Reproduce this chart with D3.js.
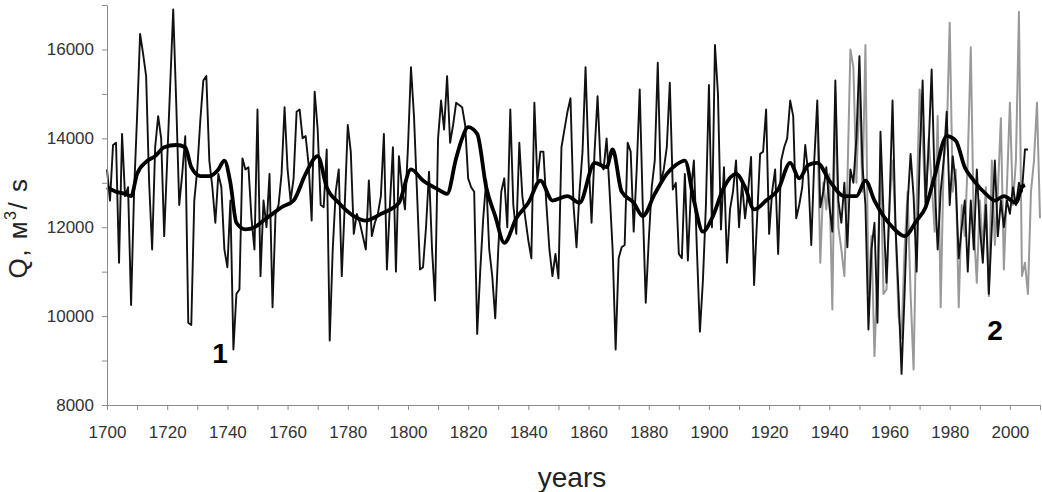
<!DOCTYPE html>
<html>
<head>
<meta charset="utf-8">
<script src="https://cdn.jsdelivr.net/npm/d3@7"></script>
<style>
  body { margin: 0; background: #fff; }
  text { font-family: "Liberation Sans", Arial, sans-serif; }
  .axis path, .axis line { stroke: #8a8a8a; }
  .axis text { fill: #333; font-size: 17px; }
</style>
</head>
<body>
<div id="chart"></div>
<script>
// 1. Data

// curve 1: reconstructed discharge, one value per year from 1700
const reconStart = 1700
const reconValues = [
  13300, 12600, 13850, 13900, 11200, 14100, 12700, 12900, 10250, 12800, // 1700s
  14500, 16350, 15900, 15400, 13000, 11500, 13800, 14500, 14000, 11800, // 1710s
  13500, 15200, 16900, 14800, 12500, 13200, 14050, 9850, 9800, 12600,   // 1720s
  13300, 14400, 15300, 15400, 13500, 12900, 12100, 13200, 12900, 11500, // 1730s
  11100, 12600, 9250, 10500, 10600, 13550, 13300, 13350, 12200, 11500,  // 1740s
  14650, 10900, 12600, 12000, 13200, 10200, 12300, 12500, 13200, 14700, // 1750s
  13300, 12600, 13100, 14600, 14650, 14000, 14050, 13400, 12150, 15050, // 1760s
  14200, 12500, 12450, 13750, 9450, 11500, 12800, 13300, 10900, 12500,  // 1770s
  14300, 13700, 11850, 12300, 12100, 11800, 11500, 13050, 11800, 12100, // 1780s
  12300, 12700, 14100, 11050, 12500, 13800, 11000, 13600, 12900, 12400, // 1790s
  13800, 15600, 14500, 12800, 11050, 11100, 12000, 13250, 11500, 10350, // 1800s
  14000, 14850, 14200, 15400, 13900, 14300, 14800, 14750, 14700, 14300, // 1810s
  13100, 12900, 12800, 9600, 11000, 12200, 13050, 11500, 10900, 9950,   // 1820s
  11500, 12800, 13100, 12000, 14650, 12500, 11850, 13900, 12700, 12200, // 1830s
  11700, 11300, 14800, 13050, 13700, 13700, 12500, 11500, 10900, 11400, // 1840s
  10850, 13800, 14200, 14600, 14900, 12500, 11550, 12800, 13700, 15600, // 1850s
  13500, 12100, 13700, 14950, 13400, 13300, 14000, 12800, 11500, 9250,  // 1860s
  11300, 11550, 11600, 13900, 13700, 11900, 13300, 15100, 12500, 10300, // 1870s
  11700, 12900, 13500, 15700, 13000, 13300, 13800, 15250, 12850, 13000, // 1880s
  11400, 11300, 13200, 11250, 12800, 13500, 11500, 9650, 10800, 12500,  // 1890s
  15200, 12000, 16100, 15000, 11950, 13350, 11200, 12400, 12800, 13500, // 1900s
  12000, 13000, 12200, 12800, 13580, 10700, 12200, 13650, 13700, 14650, // 1910s
  11850, 12800, 13300, 11400, 13500, 13800, 14000, 14850, 14500, 12200, // 1920s
  12500, 12900, 13850, 13200, 11600, 13500, 14850, 12450, 12800, 13350, // 1930s
  12500, 11900, 15300, 12600, 12100, 13000, 11550, 13300, 13000, 14000, // 1940s
  15850, 13400, 12500, 9700, 11500, 12100, 9850, 14150, 12300, 10750,   // 1950s
  12500, 14850, 12000, 10500, 8700, 10500, 12500, 13650, 12700, 11000,  // 1960s
  13500, 15300, 12500, 13800, 15550, 13000, 11500, 12800, 13500, 14600, // 1970s
  12500, 13600, 13000, 11300, 12000, 12600, 11000, 12600, 11500, 13300, // 1980s
  12000, 11200, 12500, 10500, 12000, 13500, 11800, 12600, 12000, 12600, // 1990s
  12300, 12900, 12500, 13000, 12800, 13750, 13750                       // 2000s
]

// curve 2: observed discharge, one value per year from 1936
const observedStart = 1936
const observedValues = [
  14500, 11200, 13000, 12400,                                           // 1936-39
  13200, 10150, 15000, 12000, 11500, 10900, 13000, 16000, 15600, 13000, // 1940s
  15200, 12800, 16100, 10500, 11800, 9100, 11000, 13500, 10500, 10600,  // 1950s
  12500, 13500, 12000, 10000, 9500, 11500, 12800, 10500, 8800, 12500,   // 1960s
  15100, 14000, 12500, 14000, 13000, 11900, 14500, 10200, 13500, 14000, // 1970s
  16600, 12800, 13300, 10200, 12500, 11800, 13500, 16050, 12000, 10750, // 1980s
  12600, 11500, 12900, 10450, 13500, 11600, 12800, 14450, 11050, 12900, // 1990s
  14800, 12500, 13500, 16850, 10900, 11200, 10500, 12800, 13500, 14800, // 2000s
  12200                                                                 // 2010
]

// smoothed curve (thick line), read at irregular years
const smoothYears = [
  1700, 1703, 1706, 1708, 1710, 1713, 1716, 1719, 1723, 1726, 1728, 1731, 1734,
  1737, 1739, 1741, 1743, 1746, 1749, 1752, 1755, 1758, 1762, 1766, 1770, 1773,
  1777, 1782, 1786, 1791, 1797, 1801, 1805, 1810, 1813, 1816, 1818, 1820, 1823,
  1826, 1829, 1832, 1836, 1840, 1844, 1848, 1853, 1857, 1862, 1866, 1868, 1871,
  1875, 1878, 1882, 1886, 1889, 1892, 1895, 1898, 1901, 1905, 1909, 1912, 1915,
  1919, 1923, 1927, 1930, 1933, 1936, 1940, 1945, 1949, 1952, 1955, 1961, 1965,
  1969, 1972, 1975, 1979, 1982, 1985, 1988, 1992, 1995, 1998, 2002, 2004, 2005
]
const smoothValues = [
  12900, 12800, 12750, 12700, 13200, 13470, 13600, 13800, 13850, 13800, 13350, 13150, 13150,
  13300, 13500, 13000, 12100, 11950, 12000, 12150, 12300, 12450, 12600, 13200, 13600, 12900,
  12550, 12250, 12150, 12300, 12550, 13300, 13050, 12850, 12750, 13550, 14000, 14250, 14100,
  12900, 12250, 11650, 12200, 12550, 13050, 12600, 12700, 12550, 13450, 13350, 13750, 12800,
  12550, 12250, 12750, 13200, 13400, 13500, 12600, 11900, 12200, 12900, 13200, 12900, 12400,
  12600, 12850, 13450, 13100, 13400, 13450, 13050, 12700, 12700, 13050, 12600, 12000, 11800,
  12150, 12450, 13150, 14050, 13950, 13350, 13050, 12750, 12600, 12700, 12550, 12900, 12950
]

const xTicks = [1700, 1710, 1720, 1730, 1740, 1750, 1760, 1770, 1780, 1790, 1800,
  1810, 1820, 1830, 1840, 1850, 1860, 1870, 1880, 1890, 1900, 1910, 1920, 1930,
  1940, 1950, 1960, 1970, 1980, 1990, 2000, 2010]
const yTicks = [8000, 9000, 10000, 11000, 12000, 13000, 14000, 15000, 16000, 17000]

// 2. Dimensions
const dimensions = {
  width: 1042,
  height: 492,
  margin: { top: 5, right: 2, bottom: 87, left: 107 },
}
dimensions.boundedWidth = dimensions.width - dimensions.margin.left - dimensions.margin.right
dimensions.boundedHeight = dimensions.height - dimensions.margin.top - dimensions.margin.bottom

// 3. Canvas
const wrapper = d3.select("#chart")
  .append("svg")
    .attr("width", dimensions.width)
    .attr("height", dimensions.height)

const bounds = wrapper.append("g")
    .attr("transform", `translate(${dimensions.margin.left},${dimensions.margin.top})`)

// 4. Scales
const xScale = d3.scaleLinear()
  .domain([1700, 2010])
  .range([0, dimensions.boundedWidth])

const yScale = d3.scaleLinear()
  .domain([8000, 17000])
  .range([dimensions.boundedHeight, 0])

const recon = reconValues.map((v, i) => ({ year: reconStart + i, q: v }))
const observed = observedValues.map((v, i) => ({ year: observedStart + i, q: v }))
const smooth = smoothYears.map((yr, i) => ({ year: yr, q: smoothValues[i] }))

const lineGenerator = d3.line()
  .x(d => xScale(d.year))
  .y(d => yScale(d.q))

const smoothGenerator = d3.line()
  .x(d => xScale(d.year))
  .y(d => yScale(d.q))
  .curve(d3.curveMonotoneX)

// 5. Data
bounds.append("path")
  .attr("fill", "none")
  .attr("stroke", "#999")
  .attr("stroke-width", 2)
  .attr("stroke-linejoin", "round")
  .attr("d", lineGenerator(observed))

bounds.append("path")
  .attr("fill", "none")
  .attr("stroke", "#111")
  .attr("stroke-width", 1.9)
  .attr("stroke-linejoin", "round")
  .attr("d", lineGenerator(recon))

bounds.append("path")
  .attr("fill", "none")
  .attr("stroke", "#000")
  .attr("stroke-width", 3.8)
  .attr("stroke-linejoin", "round")
  .attr("d", smoothGenerator(smooth))

// 6. Peripherals
const xAxis = d3.axisBottom(xScale)
  .tickValues(xTicks)
  .tickFormat(d => d % 20 === 0 ? d : "")
  .tickSize(5)
  .tickSizeOuter(0)
  .tickPadding(16)

bounds.append("g")
  .attr("class", "axis")
  .attr("transform", `translate(0,${dimensions.boundedHeight})`)
  .call(xAxis)

const yAxis = d3.axisLeft(yScale)
  .tickValues(yTicks)
  .tickFormat(d => d % 2000 === 0 ? d : "")
  .tickSize(5)
  .tickSizeOuter(0)
  .tickPadding(8)

bounds.append("g")
  .attr("class", "axis")
  .call(yAxis)

// axis titles
wrapper.append("text")
  .attr("x", 572)
  .attr("y", 487)
  .attr("text-anchor", "middle")
  .attr("fill", "#222")
  .style("font-size", "28px")
  .text("years")

const yLabel = wrapper.append("text")
  .attr("transform", "translate(27,228) rotate(-90)")
  .attr("text-anchor", "middle")
  .attr("fill", "#222")
  .style("font-size", "26px")
  .style("letter-spacing", "1.5px")
  .attr("xml:space", "preserve")
yLabel.append("tspan").text("Q, м")
yLabel.append("tspan").attr("dy", -11).style("font-size", "16px").text("3")
yLabel.append("tspan").attr("dy", 11).text("/ s")

// curve numbers
wrapper.append("text")
  .attr("x", 220).attr("y", 363)
  .attr("text-anchor", "middle")
  .style("font-size", "28px").style("font-weight", "bold")
  .text("1")

wrapper.append("text")
  .attr("x", 995).attr("y", 340)
  .attr("text-anchor", "middle")
  .style("font-size", "28px").style("font-weight", "bold")
  .text("2")
</script>
</body>
</html>
